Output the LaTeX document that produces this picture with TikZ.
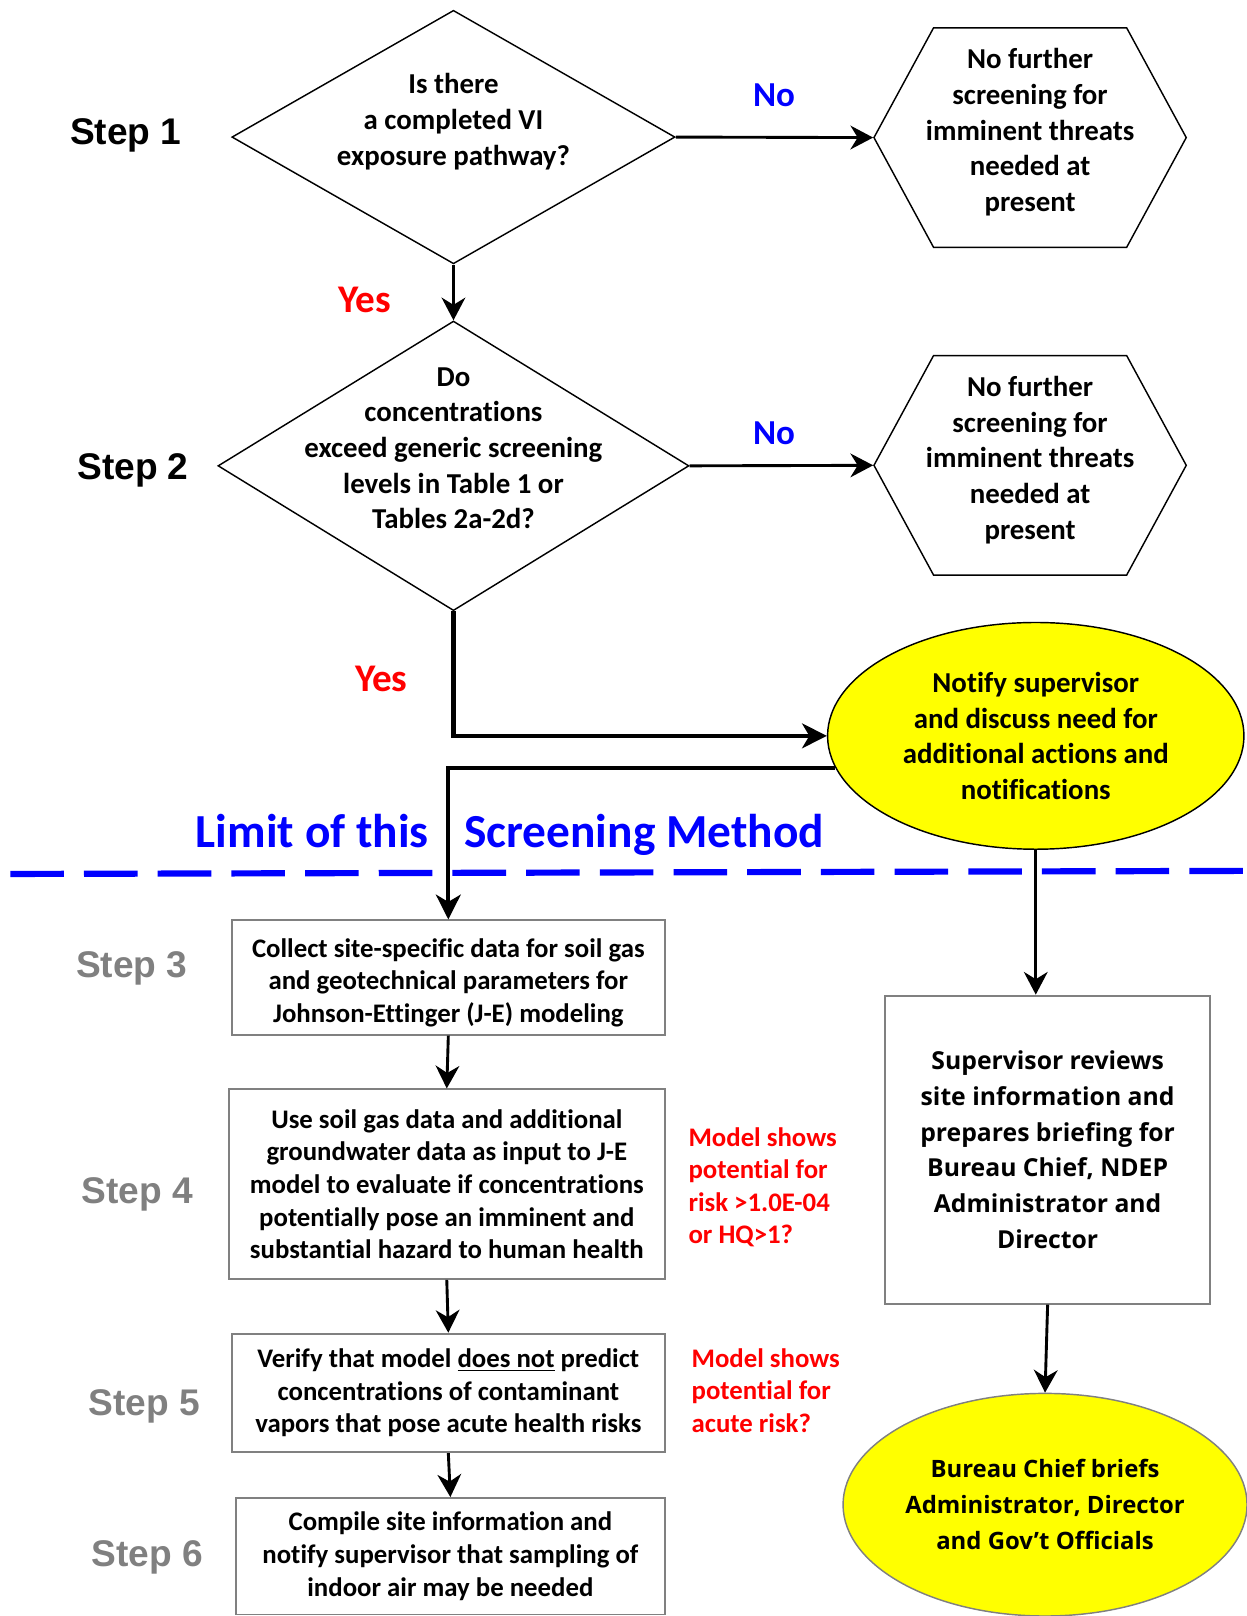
\documentclass[tikz,border=0pt]{standalone}
\usepackage{fontspec}
\setmainfont{Carlito}[RawFeature={-liga}]
\newfontfamily\arialfont{Liberation Sans}
\newfontfamily\opensansfont{Open Sans}
\usetikzlibrary{shapes.geometric,shapes.symbols,arrows.meta,positioning}
\definecolor{noteyellow}{RGB}{255,255,0}
\definecolor{stepgray}{RGB}{128,128,128}
\definecolor{limitblue}{RGB}{0,0,255}
\definecolor{askred}{RGB}{255,0,0}
\begin{document}
\begin{tikzpicture}[x=0.5pt, y=-0.5pt]
    % Define Styles
        \tikzstyle{decision} = [
            diamond,
            draw,
            line width = 0.7pt,
            inner sep = -25pt,
            align = center,
            font = \bfseries\fontsize{14}{17.3}\selectfont
        ]
        \tikzstyle{stopbox} = [
            signal,
            signal to = east and west,
            signal pointer angle = 123,
            draw,
            line width = 0.7pt,
            inner xsep = -5pt,
            minimum width = 151.5pt,
            minimum height = 106.5pt,
            align = center,
            font = \bfseries\fontsize{14}{17.3}\selectfont
        ]
        \tikzstyle{process} = [
            rectangle,
            draw = stepgray,
            line width = 0.9pt,
            align = center,
            inner sep = 2pt,
            font = \bfseries\fontsize{13}{15.8}\selectfont
        ]
        \tikzstyle{notice} = [
            ellipse,
            draw,
            fill = noteyellow,
            line width = 0.7pt,
            inner sep = 0pt,
            align = center
        ]
        \tikzstyle{steplabel} = [
            font = \arialfont\bfseries\fontsize{18}{20}\selectfont
        ]
        \tikzstyle{yeslabel} = [text = askred, font = \bfseries\fontsize{19}{22}\selectfont]
        \tikzstyle{nolabel} = [text = limitblue, font = \bfseries\fontsize{17}{20}\selectfont]
        \tikzstyle{limitlabel} = [
            text = limitblue,
            anchor = base,
            font = \bfseries\fontsize{23}{26}\selectfont
        ]
        \tikzstyle{risklabel} = [
            text = askred,
            anchor = west,
            align = left,
            font = \bfseries\fontsize{13}{15.8}\selectfont
        ]
        \tikzstyle{flowline} = [
            draw,
            line width = 1.4pt,
            -{Stealth[length=11pt, width=11.5pt, inset=3.5pt]}
        ]
        \tikzstyle{heavyline} = [
            draw,
            line width = 2pt,
            -{Stealth[length=12pt, width=12pt, inset=3.5pt]}
        ]
        \tikzstyle{divider} = [
            draw = limitblue,
            line width = 3pt,
            dash pattern = on 26pt off 9.75pt
        ]
    \useasboundingbox (0,0) rectangle (1209,1568);
    % Place nodes
        \node [steplabel] (s1) at (122,131) {Step 1};
        \node [decision, minimum width=215pt, minimum height=123pt] (q1) at (440,133) {%
            Is there \\
            a completed VI \\
            exposure pathway? \\
            \mbox{}
        };
        \node [stopbox] (nf1) at (999.5,133.5) {%
            No further \\
            screening for \\
            imminent threats \\
            needed at \\
            present \\[-10pt]
            \mbox{}
        };
        \node [nolabel] (no1) at (751,92) {No};
        \node [yeslabel] (yes1) at (354,291) {Yes};
        \node [steplabel] (s2) at (129,456) {Step 2};
        \node [decision, minimum width=228.5pt, minimum height=140.5pt] (q2) at (440,452) {%
            Do \\
            concentrations \\
            exceed generic screening \\
            levels in Table 1 or \\
            Tables 2a-2d? \\
            \mbox{}
        };
        \node [stopbox] (nf2) at (999.5,451.5) {%
            No further \\
            screening for \\
            imminent threats \\
            needed at \\
            present \\[-10pt]
            \mbox{}
        };
        \node [nolabel] (no2) at (751,420) {No};
        \node [yeslabel] (yes2) at (370,659) {Yes};
        \node [notice, minimum width=202pt, minimum height=110pt,
               font=\bfseries\fontsize{14}{17.3}\selectfont] (notify) at (1005,714) {%
            Notify supervisor \\
            and discuss need for \\
            additional actions and \\
            notifications
        };
        \node [limitlabel] (lim1) at (303,822) {Limit of this};
        \node [limitlabel] (lim2) at (625,822) {Screening Method};
        \node [steplabel, text=stepgray] (s3) at (128,940) {Step 3};
        \node [process, minimum width=210pt, minimum height=55.5pt] (b3) at (435,948.5) {%
            \rule{0pt}{14pt}Collect site-specific data for soil gas \\
            and geotechnical parameters for \\
            Johnson-Ettinger (J-E) modeling
        };
        \node [steplabel, text=stepgray] (s4) at (133,1159) {Step 4};
        \node [process, minimum width=211.5pt, minimum height=92pt] (b4) at (433.5,1149) {%
            Use soil gas data and additional \\
            groundwater data as input to J-E \\
            model to evaluate if concentrations \\
            potentially pose an imminent and \\
            substantial hazard to human health
        };
        \node [risklabel] (r4) at (661,1152) {%
            Model shows \\
            potential for \\
            risk >1.0E-04 \\
            or HQ>1?
        };
        \node [steplabel, text=stepgray] (s5) at (140,1365) {Step 5};
        \node [process, minimum width=210pt, minimum height=57.5pt] (b5) at (435,1351.5) {%
            Verify that model \underline{does not} predict \\
            concentrations of contaminant \\
            vapors that pose acute health risks
        };
        \node [risklabel] (r5) at (664,1349) {%
            Model shows \\
            potential for \\
            acute risk?
        };
        \node [steplabel, text=stepgray] (s6) at (143,1511) {Step 6};
        \node [process, minimum width=208pt, minimum height=56.5pt] (b6) at (437,1510) {%
            Compile site information and \\
            notify supervisor that sampling of \\
            indoor air may be needed
        };
        \node [process, minimum width=157.5pt, minimum height=149.5pt,
               font=\opensansfont\bfseries\fontsize{12}{17.4}\selectfont] (sup) at (1016.5,1115.5) {%
            Supervisor reviews \\
            site information and \\
            prepares briefing for \\
            Bureau Chief, NDEP \\
            Administrator and \\
            Director
        };
        \node [notice, draw=stepgray, minimum width=196pt, minimum height=108pt,
               font=\opensansfont\bfseries\fontsize{11.6}{17.5}\selectfont] (brief) at (1014,1460) {%
            Bureau Chief briefs \\
            Administrator, Director \\
            and Gov’t Officials
        };
    % Draw edges
        \path [divider] (10,848) -- (1209,845);
        \path [flowline] (q1.east) -- (nf1.west);
        \path [flowline] (q1.south) -- (q2.north);
        \path [flowline] (q2.east) -- (nf2.west);
        \path [heavyline] (q2.south) |- (notify.west);
        \path [heavyline] (notify.189) -| (b3.north);
        \path [flowline] (notify.south) -- (notify.south |- sup.north);
        \path [flowline] (sup.south) -- (brief.north);
        \path [flowline] (b3.south) -- (b4.north);
        \path [flowline] (b4.south) -- (b5.north);
        \path [flowline] (b5.south) -- (b6.north);
    \end{tikzpicture}
\end{document}
